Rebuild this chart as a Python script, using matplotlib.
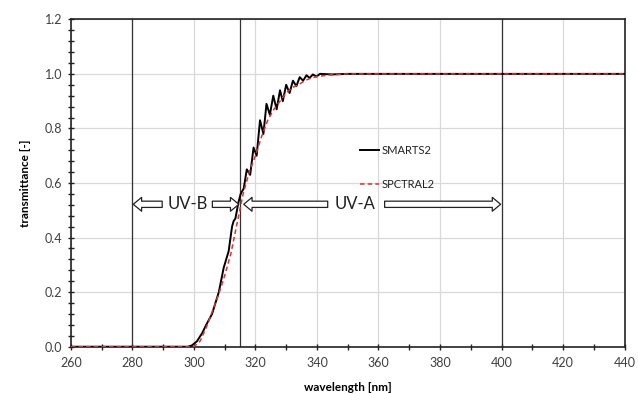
import numpy as np
import matplotlib
matplotlib.use('Agg')
import matplotlib.pyplot as plt
from matplotlib.patches import FancyArrowPatch
from matplotlib.ticker import MultipleLocator

# SMARTS2 transmittance
smarts_wl = [260, 298, 299.4, 301, 302.7, 304, 305.9, 307, 308.1, 309.7, 310.5, 311.3,
             312.4, 312.9, 313.5, 314, 314.5, 315.2, 316.2, 317.2, 318.3, 319.4, 320.4,
             321.5, 322.6, 323.6, 324.7, 325.8, 326.9, 328.0, 328.9, 330.0, 331.1, 332.2,
             333.3, 334.4, 335.5, 336.6, 337.6, 338.7, 339.8, 341, 345, 350, 360, 440]
smarts_t = [0, 0, 0.005, 0.02, 0.05, 0.08, 0.12, 0.16, 0.20, 0.29, 0.32, 0.35,
            0.44, 0.46, 0.47, 0.50, 0.53, 0.56, 0.58, 0.65, 0.63, 0.73, 0.70,
            0.83, 0.78, 0.89, 0.85, 0.92, 0.87, 0.94, 0.90, 0.96, 0.93, 0.975,
            0.955, 0.988, 0.975, 0.995, 0.985, 0.998, 0.99, 1.0, 0.998, 1.0, 1.0, 1.0]

# SPCTRAL2 transmittance
spctral_wl = [260, 300, 302, 304, 306, 308, 310, 312, 314, 316, 318, 320, 322, 324,
              326, 328, 330, 332, 334, 336, 338, 340, 344, 350, 360, 440]
spctral_t = [0, 0.0, 0.02, 0.07, 0.13, 0.19, 0.26, 0.34, 0.45, 0.56, 0.64, 0.70, 0.77, 0.83,
             0.87, 0.90, 0.93, 0.95, 0.96, 0.975, 0.984, 0.99, 0.996, 1.0, 1.0, 1.0]

# band limits
band_edges = [280, 315, 400]

plt.rcParams['font.family'] = ['Lato', 'DejaVu Sans']

fig = plt.figure(figsize=(6.38, 3.94), dpi=100)
ax = fig.add_axes([0.111, 0.120, 0.868, 0.831])

ax.set_xlim(260, 440)
ax.set_ylim(0, 1.2)
ax.xaxis.set_major_locator(MultipleLocator(20))
ax.xaxis.set_minor_locator(MultipleLocator(10))
ax.yaxis.set_major_locator(MultipleLocator(0.2))
ax.yaxis.set_minor_locator(MultipleLocator(0.04))
ax.yaxis.set_major_formatter(matplotlib.ticker.FormatStrFormatter('%.1f'))
ax.grid(True, which='major', color='#d9d9d9', linewidth=0.9)
ax.set_axisbelow(True)
ax.tick_params(which='both', direction='inout', length=5, width=1.0, labelsize=9,
               color='#222222', labelcolor='#404040')
ax.tick_params(which='minor', length=4)
ax.tick_params(axis='x', pad=5)
for s in ax.spines.values():
    s.set_linewidth(1.2)
    s.set_color('#222222')

for e in band_edges:
    ax.axvline(e, color='#333333', linewidth=0.9, zorder=1)

ax.plot(smarts_wl, smarts_t, color='black', linewidth=1.4, label='SMARTS2', zorder=3)
ax.plot(spctral_wl, spctral_t, color='#e03030', linewidth=1.1, linestyle=(0, (3, 2)),
        label='SPCTRAL2', zorder=4)

ax.set_xlabel('wavelength [nm]', fontsize=8.5, fontweight='bold', labelpad=9)
ax.set_ylabel('transmittance [-]', fontsize=8.5, fontweight='bold', labelpad=10)

leg = ax.legend(loc='upper left', bbox_to_anchor=(0.5215, 0.615), frameon=False,
                fontsize=8, handlelength=1.7, handletextpad=0.3, labelspacing=2.0,
                borderpad=0, borderaxespad=0, labelcolor='#222222')

# band arrows
ya = 0.522
style = 'simple,head_length=6,head_width=10,tail_width=4.5'
for x0, x1 in [(289.7, 280.3), (306.0, 314.6), (343.5, 316.2), (362.0, 399.7)]:
    ar = FancyArrowPatch((x0, ya), (x1, ya), arrowstyle=style, mutation_scale=1,
                         facecolor='white', edgecolor='#222222', linewidth=0.9, zorder=5,
                         shrinkA=0, shrinkB=0)
    ax.add_patch(ar)
ax.text(298.0, ya, 'UV-B', ha='center', va='center', fontsize=12, color='#222222')
ax.text(352.5, ya, 'UV-A', ha='center', va='center', fontsize=12, color='#222222')

fig.savefig('out.png', dpi=100)
